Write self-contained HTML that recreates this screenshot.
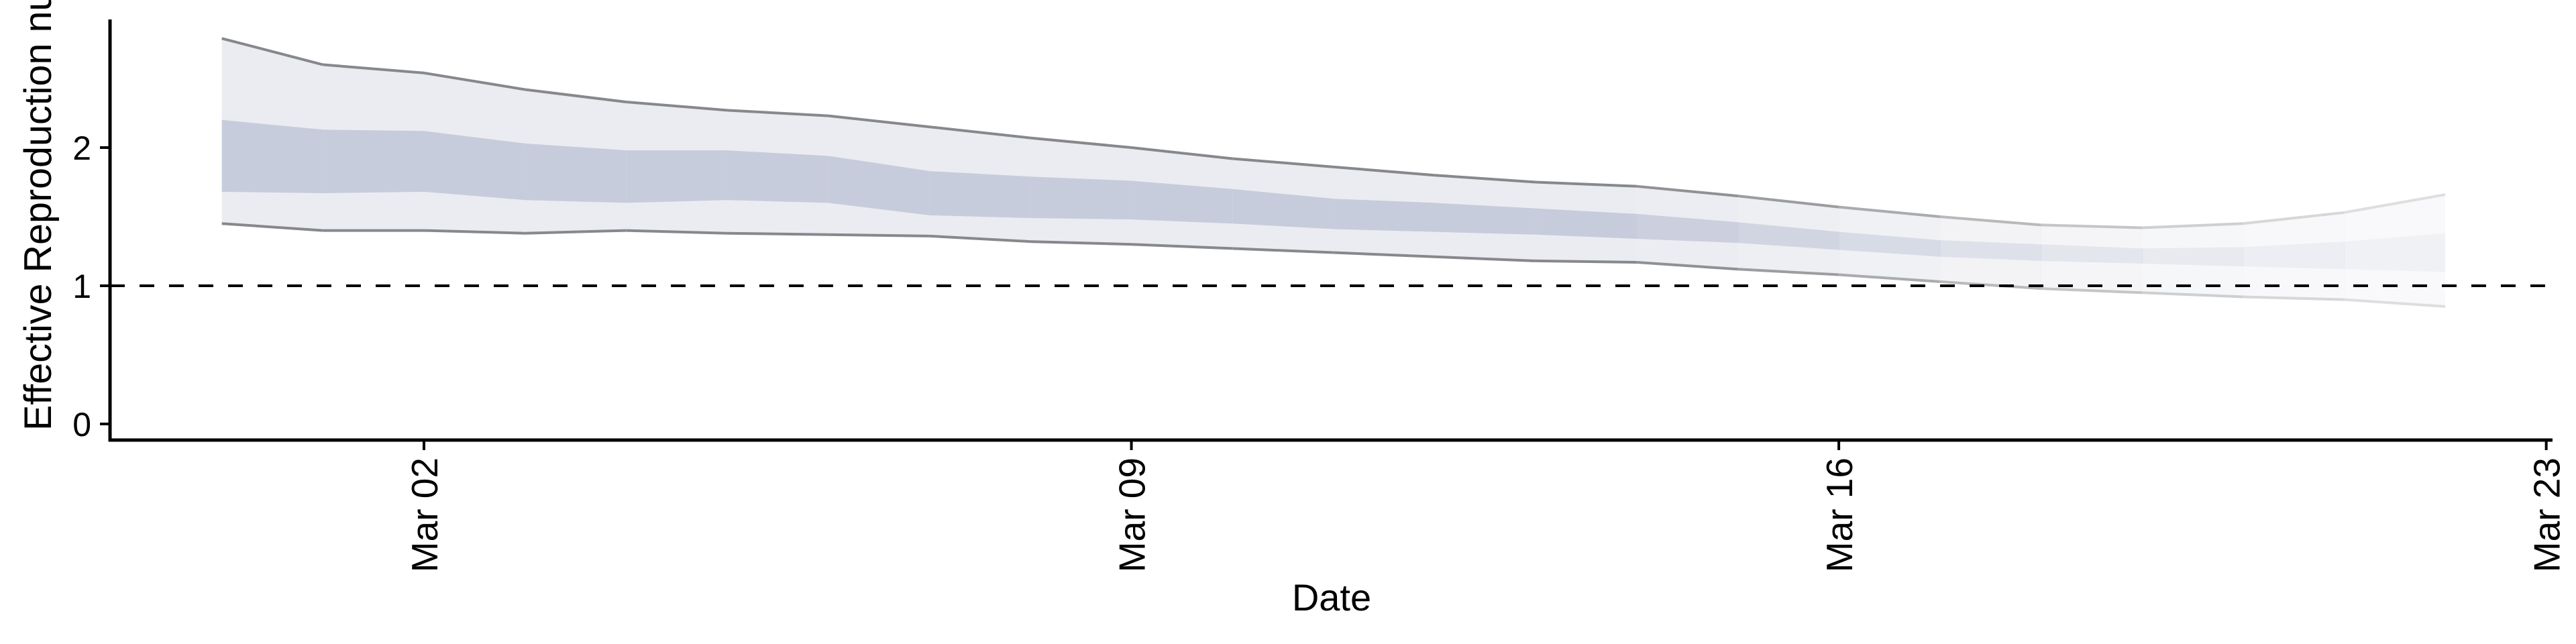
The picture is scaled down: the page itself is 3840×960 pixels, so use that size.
<!DOCTYPE html>
<html><head><meta charset="utf-8"><style>
html,body{margin:0;padding:0;background:#fff}
svg{display:block}
text{font-family:"Liberation Sans",sans-serif}
</style></head><body>
<svg id="chart" width="3840" height="960" viewBox="0 0 3840 960" xmlns="http://www.w3.org/2000/svg">
<g id="bands"></g>
<g id="axes"></g>
</svg>
<script>
const dayOffsets = [-2,-1,0,1,2,3,4,5,6,7,8,9,10,11,12,13,14,15,16,17,18,19,20];
const outerUpper = [2.79,2.60,2.54,2.42,2.33,2.27,2.23,2.15,2.07,2.00,1.92,1.86,1.80,1.75,1.72,1.65,1.57,1.50,1.44,1.42,1.45,1.53,1.66];
const outerLower = [1.45,1.40,1.40,1.38,1.40,1.38,1.37,1.36,1.32,1.30,1.27,1.24,1.21,1.18,1.17,1.12,1.08,1.03,0.98,0.95,0.92,0.90,0.85];
const innerUpper = [2.20,2.13,2.12,2.03,1.98,1.98,1.94,1.83,1.79,1.76,1.70,1.63,1.60,1.56,1.52,1.46,1.39,1.33,1.30,1.27,1.28,1.32,1.38];
const innerLower = [1.68,1.67,1.68,1.62,1.60,1.62,1.60,1.51,1.49,1.48,1.45,1.41,1.39,1.37,1.34,1.31,1.26,1.21,1.18,1.16,1.14,1.12,1.10];
const segmentOpacity = [1,1,1,1,1,1,1,1,1,1,1,1,1,1,0.92,0.82,0.7,0.58,0.48,0.4,0.33,0.27];
const yTicks = [0,1,2];
const xTickDays = [0,7,14,21];
const xTickLabels = ["Mar 02","Mar 09","Mar 16","Mar 23"];

const NS="http://www.w3.org/2000/svg";
const X0=632, DAY=150.65;
const Y0=632, UNIT=206;
const xs=d=>X0+d*DAY;
const ys=v=>Y0-v*UNIT;
function mk(tag,attrs,parent){const e=document.createElementNS(NS,tag);for(const k in attrs)e.setAttribute(k,attrs[k]);parent.appendChild(e);return e;}
const bands=document.getElementById('bands');
const axes=document.getElementById('axes');

for(let i=0;i<dayOffsets.length-1;i++){
  const a=dayOffsets[i], b=dayOffsets[i+1], op=segmentOpacity[i];
  const xa=xs(a), xb=xs(b)+(i<dayOffsets.length-2?0.6:0);
  const g=mk('g',{opacity:op},bands);
  
  
  const o=mk('polygon',{points:`${xa},${ys(outerUpper[i])} ${xb},${ys(outerUpper[i+1])} ${xb},${ys(outerLower[i+1])} ${xa},${ys(outerLower[i])}`,fill:'#ebecf1'},g);
  
  
  const n=mk('polygon',{points:`${xa},${ys(innerUpper[i])} ${xb},${ys(innerUpper[i+1])} ${xb},${ys(innerLower[i+1])} ${xa},${ys(innerLower[i])}`,fill:'#c7ccdc'},g);
  
  
  const lu=mk('line',{x1:xa,y1:ys(outerUpper[i]),x2:xs(b),y2:ys(outerUpper[i+1]),stroke:'#87888c','stroke-width':4},g);
  
  
  const ll=mk('line',{x1:xa,y1:ys(outerLower[i]),x2:xs(b),y2:ys(outerLower[i+1]),stroke:'#87888c','stroke-width':4},g);
  
  
}

const ref=mk('line',{x1:164,y1:ys(1),x2:3803,y2:ys(1),stroke:'#000','stroke-width':4,'stroke-dasharray':'22 22'},axes);



const ya=mk('line',{x1:164,y1:29,x2:164,y2:658,stroke:'#000','stroke-width':5},axes);


const xa=mk('line',{x1:162,y1:656,x2:3805,y2:656,stroke:'#000','stroke-width':5},axes);



yTicks.forEach(v=>{
  const t=mk('line',{x1:149,y1:ys(v),x2:164,y2:ys(v),stroke:'#000','stroke-width':4},axes);
  
  
  const l=mk('text',{x:136,y:ys(v)+18,'text-anchor':'end','font-size':50},axes);
  
  
  l.textContent=v;
});
xTickDays.forEach((d,i)=>{
  const t=mk('line',{x1:xs(d),y1:656,x2:xs(d),y2:671,stroke:'#000','stroke-width':4},axes);
  
  
  const l=mk('text',{x:0,y:0,'text-anchor':'end','font-size':55,transform:`translate(${xs(d)+20},${682}) rotate(-90)`},axes);
  
  
  l.textContent=xTickLabels[i];
});
const xt=mk('text',{x:1985,y:910,'text-anchor':'middle','font-size':56},axes);


xt.textContent='Date';
const yt=mk('text',{x:0,y:0,'text-anchor':'start','font-size':57.5,transform:'translate(76,642) rotate(-90)'},axes);


yt.textContent='Effective Reproduction number';
</script>
</body></html>
